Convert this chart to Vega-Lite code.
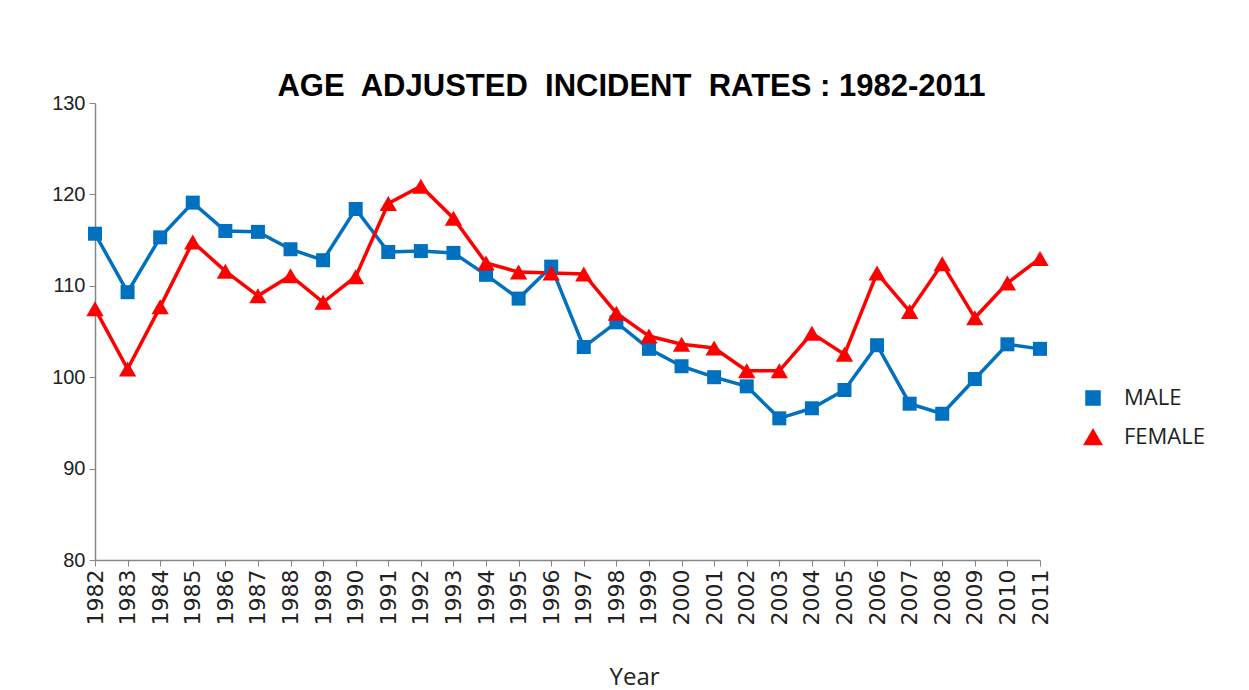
{
  "$schema": "https://vega.github.io/schema/vega-lite/v6.json",
  "width": 945,
  "height": 457,
  "autosize": {"type": "none"},
  "padding": {"left": 95, "top": 103, "right": 209, "bottom": 130},
  "background": "white",
  "title": {
    "text": "AGE\u00a0 ADJUSTED\u00a0 INCIDENT\u00a0 RATES : 1982-2011",
    "font": "Liberation Sans",
    "fontSize": 31,
    "fontWeight": "bold",
    "color": "black",
    "anchor": "middle",
    "frame": "group",
    "dx": 64,
    "dy": 40,
    "baseline": "alphabetic",
    "offset": 6
  },
  "data": {
    "values": [
      {"year": "1982", "sex": "MALE", "rate": 115.7},
      {"year": "1983", "sex": "MALE", "rate": 109.3},
      {"year": "1984", "sex": "MALE", "rate": 115.3},
      {"year": "1985", "sex": "MALE", "rate": 119.1},
      {"year": "1986", "sex": "MALE", "rate": 116.0},
      {"year": "1987", "sex": "MALE", "rate": 115.9},
      {"year": "1988", "sex": "MALE", "rate": 114.0},
      {"year": "1989", "sex": "MALE", "rate": 112.8},
      {"year": "1990", "sex": "MALE", "rate": 118.4},
      {"year": "1991", "sex": "MALE", "rate": 113.7},
      {"year": "1992", "sex": "MALE", "rate": 113.8},
      {"year": "1993", "sex": "MALE", "rate": 113.6},
      {"year": "1994", "sex": "MALE", "rate": 111.2},
      {"year": "1995", "sex": "MALE", "rate": 108.6},
      {"year": "1996", "sex": "MALE", "rate": 112.1},
      {"year": "1997", "sex": "MALE", "rate": 103.3},
      {"year": "1998", "sex": "MALE", "rate": 106.0},
      {"year": "1999", "sex": "MALE", "rate": 103.1},
      {"year": "2000", "sex": "MALE", "rate": 101.2},
      {"year": "2001", "sex": "MALE", "rate": 100.0},
      {"year": "2002", "sex": "MALE", "rate": 99.0},
      {"year": "2003", "sex": "MALE", "rate": 95.5},
      {"year": "2004", "sex": "MALE", "rate": 96.6},
      {"year": "2005", "sex": "MALE", "rate": 98.6},
      {"year": "2006", "sex": "MALE", "rate": 103.5},
      {"year": "2007", "sex": "MALE", "rate": 97.1},
      {"year": "2008", "sex": "MALE", "rate": 96.0},
      {"year": "2009", "sex": "MALE", "rate": 99.8},
      {"year": "2010", "sex": "MALE", "rate": 103.6},
      {"year": "2011", "sex": "MALE", "rate": 103.1},
      {"year": "1982", "sex": "FEMALE", "rate": 107.5},
      {"year": "1983", "sex": "FEMALE", "rate": 100.9},
      {"year": "1984", "sex": "FEMALE", "rate": 107.7},
      {"year": "1985", "sex": "FEMALE", "rate": 114.8},
      {"year": "1986", "sex": "FEMALE", "rate": 111.6},
      {"year": "1987", "sex": "FEMALE", "rate": 108.9},
      {"year": "1988", "sex": "FEMALE", "rate": 111.1},
      {"year": "1989", "sex": "FEMALE", "rate": 108.2},
      {"year": "1990", "sex": "FEMALE", "rate": 111.0},
      {"year": "1991", "sex": "FEMALE", "rate": 119.0},
      {"year": "1992", "sex": "FEMALE", "rate": 120.9},
      {"year": "1993", "sex": "FEMALE", "rate": 117.4},
      {"year": "1994", "sex": "FEMALE", "rate": 112.5},
      {"year": "1995", "sex": "FEMALE", "rate": 111.5},
      {"year": "1996", "sex": "FEMALE", "rate": 111.4},
      {"year": "1997", "sex": "FEMALE", "rate": 111.3},
      {"year": "1998", "sex": "FEMALE", "rate": 107.0},
      {"year": "1999", "sex": "FEMALE", "rate": 104.5},
      {"year": "2000", "sex": "FEMALE", "rate": 103.6},
      {"year": "2001", "sex": "FEMALE", "rate": 103.2},
      {"year": "2002", "sex": "FEMALE", "rate": 100.7},
      {"year": "2003", "sex": "FEMALE", "rate": 100.7},
      {"year": "2004", "sex": "FEMALE", "rate": 104.8},
      {"year": "2005", "sex": "FEMALE", "rate": 102.5},
      {"year": "2006", "sex": "FEMALE", "rate": 111.4},
      {"year": "2007", "sex": "FEMALE", "rate": 107.2},
      {"year": "2008", "sex": "FEMALE", "rate": 112.4},
      {"year": "2009", "sex": "FEMALE", "rate": 106.5},
      {"year": "2010", "sex": "FEMALE", "rate": 110.3},
      {"year": "2011", "sex": "FEMALE", "rate": 113.0}
    ]
  },
  "encoding": {
    "x": {
      "field": "year",
      "type": "ordinal",
      "scale": {"type": "point", "padding": 0},
      "axis": {
        "title": "Year",
        "labelAngle": -90,
        "labelFont": "DejaVu Sans",
        "labelFontSize": 22,
        "labelColor": "#222222",
        "labelPadding": 3,
        "tickSize": 6,
        "tickColor": "#868686",
        "domainColor": "#868686",
        "domainWidth": 1.5,
        "titleFont": "Open Sans",
        "titleFontSize": 24,
        "titleFontWeight": "normal",
        "titleColor": "#222222",
        "titleX": 539,
        "titleY": 124,
        "titleAlign": "center",
        "titleBaseline": "alphabetic"
      }
    },
    "y": {
      "field": "rate",
      "type": "quantitative",
      "scale": {"domain": [80, 130], "nice": false, "zero": false},
      "axis": {
        "title": null,
        "values": [80, 90, 100, 110, 120, 130],
        "grid": false,
        "labelFont": "Liberation Sans",
        "labelFontSize": 20,
        "labelColor": "#222222",
        "labelPadding": 4,
        "tickSize": 6,
        "tickColor": "#868686",
        "domainColor": "#868686",
        "domainWidth": 1.5
      }
    },
    "color": {
      "field": "sex",
      "type": "nominal",
      "scale": {"domain": ["MALE", "FEMALE"], "range": ["#0070C0", "#FF0000"]},
      "legend": {
        "orient": "none",
        "legendX": 987,
        "legendY": 284,
        "title": null,
        "labelFont": "Open Sans",
        "labelFontSize": 22,
        "labelColor": "#222222",
        "labelOffset": 20,
        "rowPadding": 17
      }
    }
  },
  "layer": [
    {"mark": {"type": "line", "strokeWidth": 3.5}},
    {
      "mark": {"type": "point", "filled": true, "opacity": 1},
      "encoding": {
        "shape": {
          "field": "sex",
          "type": "nominal",
          "scale": {"domain": ["MALE", "FEMALE"], "range": ["square", "triangle-up"]},
          "legend": null
        },
        "size": {
          "field": "sex",
          "type": "ordinal",
          "scale": {"domain": ["MALE", "FEMALE"], "range": [196, 300]},
          "legend": null
        }
      }
    }
  ],
  "config": {"view": {"stroke": null}}
}
